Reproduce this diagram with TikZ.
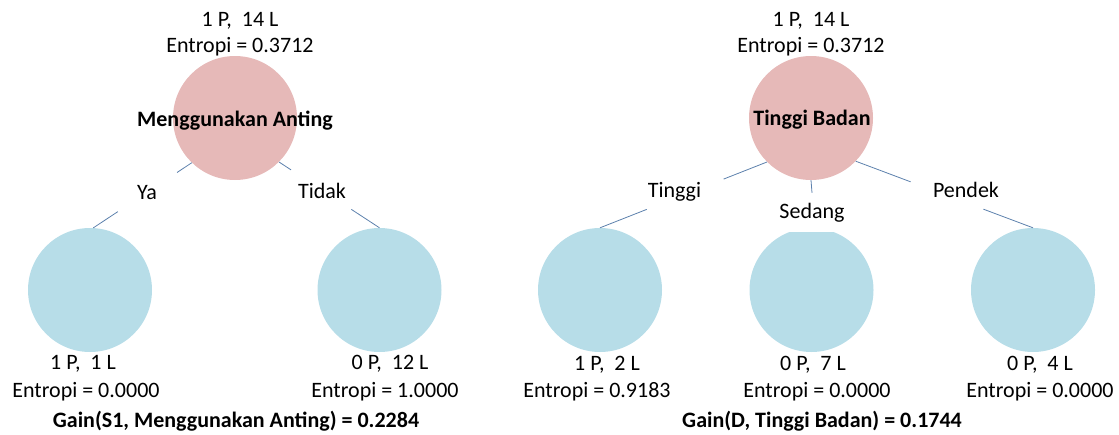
\documentclass[tikz,border=0pt]{standalone}
\usepackage{fontspec}
\setmainfont{Carlito}
\usetikzlibrary{calc}
\definecolor{rootfill}{RGB}{230,185,184}
\definecolor{leaffill}{RGB}{183,221,232}
\definecolor{edgecol}{RGB}{92,128,172}
\begin{document}
\begin{tikzpicture}[x=1pt,y=-1pt,
  every node/.style={font=\fontsize{22}{26}\selectfont, inner sep=0pt},
  rootnode/.style={circle, fill=rootfill, minimum size=124pt},
  leafnode/.style={circle, fill=leaffill, minimum size=124pt},
  txt/.style={anchor=base},
  boldtxt/.style={anchor=base, font=\fontsize{22}{26}\selectfont\bfseries},
  edge/.style={draw=edgecol, line width=0.8pt},
  gapbox/.style={fill=white, minimum width=66pt, minimum height=39pt}]
\useasboundingbox (0,0) rectangle (1119,434);

% ---------- tree 1: Menggunakan Anting ----------
\node[rootnode] (r1) at (235,118) {};
\node[leafnode] (a1) at (90,290) {};
\node[leafnode] (a2) at (379.5,290) {};

\node[txt] (r1n) at (240,26) {1 P,\ \ 14 L};
\node[txt] (r1e) at (240,52.5) {Entropi = 0.3712};
\node[boldtxt] (r1t) at (235,126) {Menggunakan Anting};

\draw[edge] (r1.-134) -- ($(r1.-134)!0.15!(a1.87)$)
            ($(r1.-134)!0.75!(a1.87)$) -- (a1.87);
\draw[edge] (r1.-45) -- ($(r1.-45)!0.12!(a2.north)$)
            ($(r1.-45)!0.72!(a2.north)$) -- (a2.north);
\node[txt] (ya) at (147,199) {Ya};
\node[txt] (tidak) at (322,198) {Tidak};

\node[txt] (a1n) at (83,369) {1 P,\ \ 1 L};
\node[txt] (a1e) at (86,397) {Entropi = 0.0000};
\node[txt] (a2n) at (390,369) {0 P,\ \ 12 L};
\node[txt] (a2e) at (385,397) {Entropi = 1.0000};
\node[boldtxt] (g1) at (236,427) {Gain(S1, Menggunakan Anting) = 0.2284};

% ---------- tree 2: Tinggi Badan ----------
\node[rootnode] (r2) at (811,118) {};
\node[leafnode] (b1) at (600,290) {};
\node[leafnode] (b2) at (811.5,290) {};
\node[leafnode] (b3) at (1033,290) {};

\node[txt] (r2n) at (811,26) {1 P,\ \ 14 L};
\node[txt] (r2e) at (811,52.5) {Entropi = 0.3712};
\node[boldtxt] (r2t) at (812,125) {Tinggi Badan};

\draw[edge] (r2.-135) -- ($(r2.-135)!0.26!(b1.north)$)
            ($(r2.-135)!0.72!(b1.north)$) -- (b1.north);
\draw[edge] (r2.-44) -- ($(r2.-44)!0.31!(b3.north)$)
            ($(r2.-44)!0.72!(b3.north)$) -- (b3.north);
\node[txt] (tinggi) at (674.5,197) {Tinggi};
\node[txt] (pendek) at (966,197) {Pendek};
\node[gapbox] (sedang) at (812,212.5) {Sedang};
\draw[edge] (r2.south) -- (sedang.north);

\node[txt] (b1n) at (607,370) {1 P,\ \ 2 L};
\node[txt] (b1e) at (597,397) {Entropi = 0.9183};
\node[txt] (b2n) at (813,370) {0 P,\ \ 7 L};
\node[txt] (b2e) at (817,397) {Entropi = 0.0000};
\node[txt] (b3n) at (1040,370) {0 P,\ \ 4 L};
\node[txt] (b3e) at (1040,397) {Entropi = 0.0000};
\node[boldtxt] (g2) at (822,427) {Gain(D, Tinggi Badan) = 0.1744};
\end{tikzpicture}
\end{document}
